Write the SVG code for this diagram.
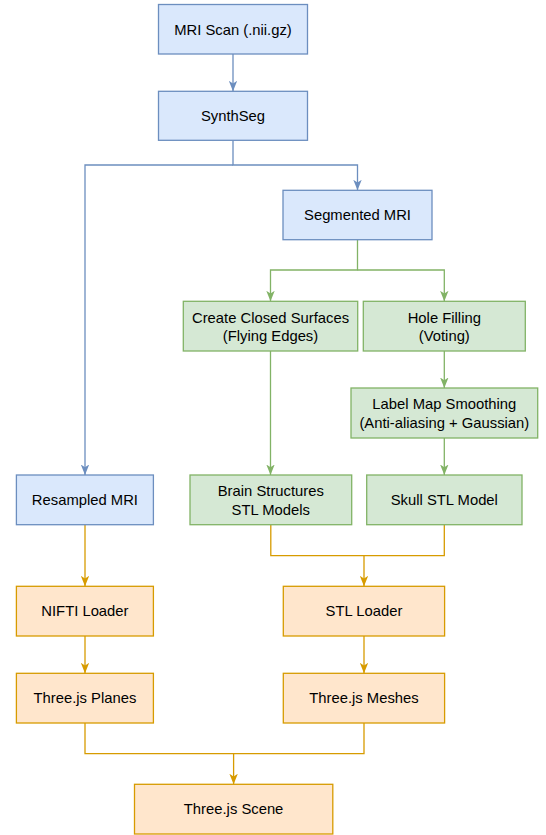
<svg xmlns="http://www.w3.org/2000/svg" width="546" height="835" viewBox="0 0 546 835">
<style>
.blue{fill:#dae8fc;stroke:#6c8ebf;stroke-width:1.3}
.green{fill:#d5e8d4;stroke:#82b366;stroke-width:1.3}
.orange{fill:#ffe6cc;stroke:#d79b00;stroke-width:1.3}
text{font-family:"Liberation Sans",Arial,Helvetica,sans-serif;font-size:14.8px;fill:#000;text-anchor:middle}
.cb{fill:none;stroke:#6c8ebf;stroke-width:1.3}
.cg{fill:none;stroke:#82b366;stroke-width:1.3}
.co{fill:none;stroke:#d79b00;stroke-width:1.3}
</style>
<defs>
<marker id="ab" viewBox="0 0 10 8" refX="10" refY="4" markerWidth="10.5" markerHeight="8.5" markerUnits="userSpaceOnUse" orient="auto"><path d="M0,0 L10,4 L0,8 L2.5,4 Z" fill="#6c8ebf"/></marker>
<marker id="ag" viewBox="0 0 10 8" refX="10" refY="4" markerWidth="10.5" markerHeight="8.5" markerUnits="userSpaceOnUse" orient="auto"><path d="M0,0 L10,4 L0,8 L2.5,4 Z" fill="#82b366"/></marker>
<marker id="ao" viewBox="0 0 10 8" refX="10" refY="4" markerWidth="10.5" markerHeight="8.5" markerUnits="userSpaceOnUse" orient="auto"><path d="M0,0 L10,4 L0,8 L2.5,4 Z" fill="#d79b00"/></marker>
</defs>
<g id="connectors">
<path class="cb" d="M233,54 V91.3" marker-end="url(#ab)"/>
<path class="cb" d="M233,140.3 V165 H357.5 V190.3" marker-end="url(#ab)"/>
<path class="cb" d="M233,165 H85 V475" marker-end="url(#ab)"/>
<path class="cg" d="M357.5,239.7 V270 H270.5 V301.3" marker-end="url(#ag)"/>
<path class="cg" d="M357.5,270 H444.3 V301.3" marker-end="url(#ag)"/>
<path class="cg" d="M270.5,351 V475" marker-end="url(#ag)"/>
<path class="cg" d="M444.3,351 V388" marker-end="url(#ag)"/>
<path class="cg" d="M444.3,438 V475" marker-end="url(#ag)"/>
<path class="co" d="M270.8,524.7 V555.7 H364 V586.3" marker-end="url(#ao)"/>
<path class="co" d="M444.3,524.7 V555.7 H364"/>
<path class="co" d="M85,524.7 V586.3" marker-end="url(#ao)"/>
<path class="co" d="M85,636 V673.3" marker-end="url(#ao)"/>
<path class="co" d="M364,636 V673.3" marker-end="url(#ao)"/>
<path class="co" d="M85,723 V753.7 H233.6 V784.3" marker-end="url(#ao)"/>
<path class="co" d="M364,723 V753.7 H233.6"/>
</g>
<g id="mri"><rect class="blue" x="158.5" y="4.5" width="149" height="49.5"/><text x="233" y="34.5">MRI Scan (.nii.gz)</text></g>
<g id="synthseg"><rect class="blue" x="158.5" y="91.3" width="149" height="49"/><text x="233" y="121">SynthSeg</text></g>
<g id="segmented"><rect class="blue" x="283" y="190.3" width="149" height="49.4"/><text x="357.5" y="220.2">Segmented MRI</text></g>
<g id="create"><rect class="green" x="183.3" y="301.3" width="174.4" height="49.7"/><text x="270.5" y="322.5">Create Closed Surfaces</text><text x="270.5" y="341.2">(Flying Edges)</text></g>
<g id="hole"><rect class="green" x="363.3" y="301.3" width="162" height="49.7"/><text x="444.3" y="322.5">Hole Filling</text><text x="444.3" y="341.2">(Voting)</text></g>
<g id="labelmap"><rect class="green" x="351" y="388" width="186.7" height="50"/><text x="444.3" y="408.9">Label Map Smoothing</text><text x="444.3" y="427.5">(Anti-aliasing + Gaussian)</text></g>
<g id="brain"><rect class="green" x="190" y="475" width="161.7" height="49.7"/><text x="270.8" y="496.2">Brain Structures</text><text x="270.8" y="514.9">STL Models</text></g>
<g id="skull"><rect class="green" x="366.7" y="475" width="155.3" height="49.7"/><text x="444.3" y="505.2">Skull STL Model</text></g>
<g id="resampled"><rect class="blue" x="16.4" y="475" width="137" height="49.7"/><text x="84.9" y="505.2">Resampled MRI</text></g>
<g id="nifti"><rect class="orange" x="16.4" y="586.3" width="137" height="49.7"/><text x="84.9" y="616.3">NIFTI Loader</text></g>
<g id="stlloader"><rect class="orange" x="283.3" y="586.3" width="161.3" height="49.7"/><text x="364" y="616.3">STL Loader</text></g>
<g id="planes"><rect class="orange" x="16.4" y="673.3" width="137" height="49.7"/><text x="84.9" y="703.3">Three.js Planes</text></g>
<g id="meshes"><rect class="orange" x="283.3" y="673.3" width="161.3" height="49.7"/><text x="364" y="703.3">Three.js Meshes</text></g>
<g id="scene"><rect class="orange" x="134.5" y="784.3" width="198.3" height="49.7"/><text x="233.6" y="814.3">Three.js Scene</text></g>
</svg>
